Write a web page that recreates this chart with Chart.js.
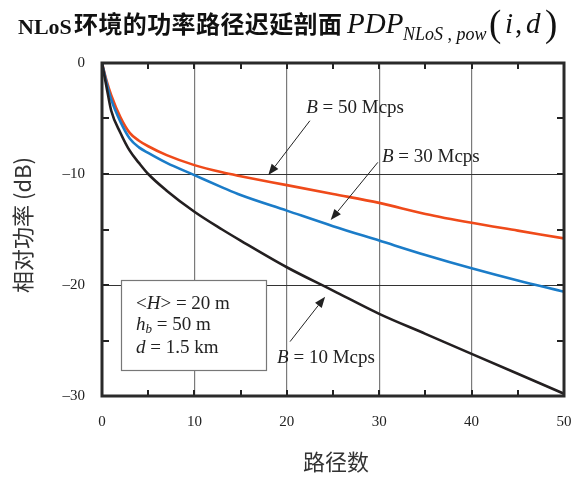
<!DOCTYPE html>
<html>
<head>
<meta charset="utf-8">
<script src="https://cdn.jsdelivr.net/npm/chart.js@4/dist/chart.umd.min.js"></script>
<style>
  html,body{margin:0;padding:0;background:#fff;}
  #wrap{position:relative;width:573px;height:479px;}
  #c{position:absolute;left:0;top:0;}
  #title{position:absolute;left:0;top:0;width:573px;height:50px;white-space:nowrap;color:#111;}
  #title span{position:absolute;line-height:1;}
  .t1{font-family:"Liberation Serif",serif;font-weight:bold;font-size:22px;}
  .t2{font-family:"Noto Sans CJK SC",sans-serif;font-weight:bold;font-size:24px;letter-spacing:0.4px;}
  .m{font-family:"Liberation Serif",serif;font-style:italic;}
  .r{font-family:"Liberation Serif",serif;font-style:normal;}
</style>
</head>
<body>
<div id="wrap">
  <canvas id="c" width="573" height="479"></canvas>
  <div id="title">
    <span class="t1" style="left:18px;top:16px;">NLoS</span>
    <span class="t2" style="left:74px;top:11px;">环境的功率路径迟延剖面</span>
    <span class="m" style="left:347px;top:9px;font-size:29px;">PDP</span>
    <span class="m" style="left:403px;top:25px;font-size:18px;">NLoS<span class="r" style="position:static">&nbsp;,&nbsp;</span>pow</span>
    <span class="r" style="left:489px;top:5px;font-size:37px;">(</span>
    <span class="m" style="left:505px;top:9px;font-size:29px;">i</span>
    <span class="r" style="left:515px;top:9px;font-size:29px;">,</span>
    <span class="m" style="left:526px;top:9px;font-size:29px;">d</span>
    <span class="r" style="left:545px;top:5px;font-size:37px;">)</span>
  </div>
</div>
<script>
// ---- data ----
const pathIndex = [0, 0.5, 1, 2, 3, 4, 5, 7, 10, 13, 15, 20, 25, 30, 35, 40, 45, 50];
const power10Mcps = [0, -2.2, -4.3, -6.3, -7.9, -9.0, -10.0, -11.5, -13.4, -15.0, -16.0, -18.4, -20.5, -22.6, -24.4, -26.2, -28.0, -29.8];
const power30Mcps = [0, -1.8, -3.3, -5.3, -6.8, -7.6, -8.1, -9.0, -10.1, -11.2, -11.9, -13.3, -14.7, -16.0, -17.3, -18.5, -19.6, -20.6];
const power50Mcps = [0, -1.6, -2.9, -4.9, -6.3, -7.0, -7.5, -8.3, -9.2, -9.85, -10.2, -11.0, -11.8, -12.6, -13.6, -14.4, -15.1, -15.8];
const seriesLabels = ["B = 50 Mcps", "B = 30 Mcps", "B = 10 Mcps"];
const xTickLabels = [0, 10, 20, 30, 40, 50];
const yTickLabels = [0, -10, -20, -30];
const xTitle = "路径数";
const yTitle = "相对功率 (dB)";

const toPts = ys => pathIndex.map((x, i) => ({x: x, y: ys[i]}));

const serif = '"Liberation Serif", "Times New Roman", serif';

// annotation positions in data units
const annots = [
  {text: seriesLabels[0], tx: 22.1, ty: -4.5, ax0: 22.5, ay0: -5.2, ax1: 18.0, ay1: -10.1},
  {text: seriesLabels[1], tx: 30.3, ty: -8.9, ax0: 29.85, ay0: -8.95, ax1: 24.75, ay1: -14.15},
  {text: seriesLabels[2], tx: 18.95, ty: -27.05, ax0: 20.35, ay0: -25.1, ax1: 24.15, ay1: -21.05}
];
const box = {x0: 2.06, y0: -19.55, x1: 17.75, y1: -27.66, tx: 3.68, lines: [-22.15, -24.05, -26.15]};

function arrow(ctx, x0, y0, x1, y1) {
  const ang = Math.atan2(y1 - y0, x1 - x0);
  const L = 11, W = 4.2;
  const bx = x1 - L * Math.cos(ang), by = y1 - L * Math.sin(ang);
  ctx.beginPath();
  ctx.moveTo(x0, y0); ctx.lineTo(bx, by);
  ctx.strokeStyle = '#222'; ctx.lineWidth = 1; ctx.stroke();
  ctx.beginPath();
  ctx.moveTo(x1, y1);
  ctx.lineTo(bx + W * Math.sin(ang), by - W * Math.cos(ang));
  ctx.lineTo(bx - W * Math.sin(ang), by + W * Math.cos(ang));
  ctx.closePath(); ctx.fillStyle = '#222'; ctx.fill();
}

function drawBLabel(ctx, x, y, text) {
  ctx.font = 'italic 19px ' + serif;
  ctx.fillStyle = '#222';
  ctx.textAlign = 'left'; ctx.textBaseline = 'alphabetic';
  ctx.fillText('B', x, y);
  let w = ctx.measureText('B').width;
  ctx.font = '19px ' + serif;
  ctx.fillText(text.slice(1), x + w, y);
}

const decor = {
  id: 'decor',
  afterDraw(chart) {
    const ctx = chart.ctx, a = chart.chartArea;
    const xs = chart.scales.x, ys = chart.scales.y;
    ctx.save();
    // inward ticks
    ctx.strokeStyle = '#222'; ctx.lineWidth = 2;
    for (let v = 5; v < 50; v += 5) {
      const px = Math.round(xs.getPixelForValue(v));
      ctx.beginPath();
      ctx.moveTo(px, a.bottom); ctx.lineTo(px, a.bottom - 6);
      ctx.moveTo(px, a.top); ctx.lineTo(px, a.top + 6);
      ctx.stroke();
    }
    for (let v = -25; v < 0; v += 5) {
      const py = Math.round(ys.getPixelForValue(v));
      ctx.beginPath();
      ctx.moveTo(a.left, py); ctx.lineTo(a.left + 7, py);
      ctx.moveTo(a.right, py); ctx.lineTo(a.right - 7, py);
      ctx.stroke();
    }
    // frame
    ctx.lineWidth = 3; ctx.strokeStyle = '#2a2a2a';
    ctx.strokeRect(a.left, a.top, a.right - a.left, a.bottom - a.top);

    // parameter box
    const bx0 = xs.getPixelForValue(box.x0), by0 = ys.getPixelForValue(box.y0);
    const bx1 = xs.getPixelForValue(box.x1), by1 = ys.getPixelForValue(box.y1);
    ctx.fillStyle = '#fff';
    ctx.fillRect(bx0, by0, bx1 - bx0, by1 - by0);
    ctx.lineWidth = 1.2; ctx.strokeStyle = '#777';
    ctx.strokeRect(Math.round(bx0) + 0.5, Math.round(by0) + 0.5, Math.round(bx1 - bx0), Math.round(by1 - by0));
    const tx = xs.getPixelForValue(box.tx);
    ctx.fillStyle = '#222'; ctx.textAlign = 'left'; ctx.textBaseline = 'alphabetic';
    const rom = '19px ' + serif, ita = 'italic 19px ' + serif;
    function seq(parts, x, y) {
      for (const p of parts) {
        ctx.font = p.f;
        ctx.fillText(p.t, x, y + (p.dy || 0));
        x += ctx.measureText(p.t).width;
      }
    }
    seq([{t: '<', f: rom}, {t: 'H', f: ita}, {t: '> = 20 m', f: rom}], tx, ys.getPixelForValue(box.lines[0]));
    seq([{t: 'h', f: ita}, {t: 'b', f: 'italic 13px ' + serif, dy: 3}, {t: ' = 50 m', f: rom}], tx, ys.getPixelForValue(box.lines[1]));
    seq([{t: 'd', f: ita}, {t: ' = 1.5 km', f: rom}], tx, ys.getPixelForValue(box.lines[2]));

    // series annotations
    for (const an of annots) {
      arrow(ctx, xs.getPixelForValue(an.ax0), ys.getPixelForValue(an.ay0),
                 xs.getPixelForValue(an.ax1), ys.getPixelForValue(an.ay1));
      drawBLabel(ctx, xs.getPixelForValue(an.tx), ys.getPixelForValue(an.ty), an.text);
    }

    // axis titles
    ctx.fillStyle = '#333';
    ctx.font = '22px "Noto Sans CJK SC", sans-serif';
    ctx.textAlign = 'center'; ctx.textBaseline = 'middle';
    ctx.fillText(xTitle, 336, 462);
    ctx.translate(23, 225);
    ctx.rotate(-Math.PI / 2);
    ctx.fillText(yTitle, 0, 0);
    ctx.restore();
  }
};

new Chart(document.getElementById('c'), {
  type: 'line',
  data: {
    datasets: [
      {label: seriesLabels[2], data: toPts(power10Mcps), borderColor: '#231f20'},
      {label: seriesLabels[1], data: toPts(power30Mcps), borderColor: '#1b7cc8'},
      {label: seriesLabels[0], data: toPts(power50Mcps), borderColor: '#ef4a1a'}
    ]
  },
  options: {
    responsive: false,
    animation: false,
    devicePixelRatio: 1,
    layout: {padding: {top: 63, right: 9, left: 0, bottom: 0}},
    elements: {
      point: {radius: 0},
      line: {borderWidth: 2.6, cubicInterpolationMode: 'monotone', fill: false}
    },
    plugins: {legend: {display: false}, tooltip: {enabled: false}, title: {display: false}},
    scales: {
      x: {
        type: 'linear', min: 0, max: 50,
        afterFit(s) { s.height = 83; s.paddingLeft = 0; s.paddingRight = 0; },
        afterBuildTicks(s) { s.ticks = xTickLabels.map(v => ({value: v})); },
        ticks: {
          padding: 17, color: '#222', maxRotation: 0,
          font: {family: serif, size: 15},
          callback: v => String(v)
        },
        border: {display: false},
        grid: {
          drawTicks: false, lineWidth: 1.2,
          color: c => (c.tick && c.tick.value > 0 && c.tick.value < 50) ? '#7a7a7a' : 'transparent'
        }
      },
      y: {
        type: 'linear', min: -30, max: 0,
        afterFit(s) { s.width = 102; s.paddingTop = 0; s.paddingBottom = 0; },
        afterBuildTicks(s) { s.ticks = yTickLabels.map(v => ({value: v})); },
        ticks: {
          padding: 17, color: '#222',
          font: {family: serif, size: 15},
          callback: v => v < 0 ? '\u2013' + Math.abs(v) : String(v)
        },
        border: {display: false},
        grid: {
          drawTicks: false, lineWidth: 1,
          color: c => (c.tick && c.tick.value > -30 && c.tick.value < 0) ? '#333' : 'transparent'
        }
      }
    }
  },
  plugins: [decor]
});
</script>
</body>
</html>
